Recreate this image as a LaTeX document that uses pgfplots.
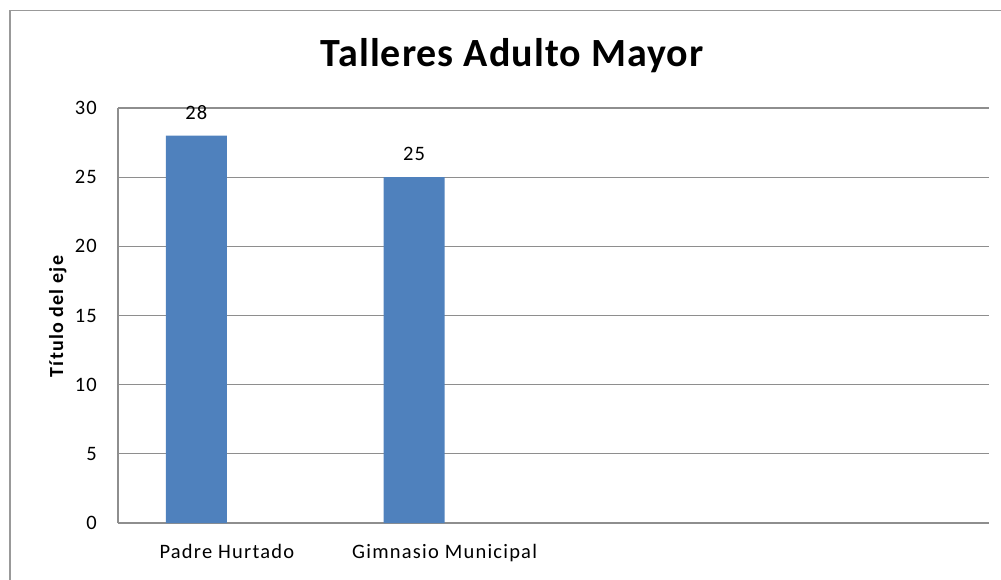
\documentclass[border=0pt]{standalone}
\usepackage{fontspec}
\setmainfont{Carlito}
\newfontfamily\lblfont{Carlito}[LetterSpace=6]
\newfontfamily\ttlfont{Carlito}[LetterSpace=2.5]
\usepackage{pgfplots}
\pgfplotsset{compat=1.18}
\definecolor{barblue}{HTML}{4F81BD}
\definecolor{gridgray}{HTML}{8E8E8E}
\definecolor{framegray}{HTML}{999999}
\begin{document}
\begin{tikzpicture}
\useasboundingbox (0bp,0bp) rectangle (1001bp,580bp);
\draw[framegray, line width=1.4bp] (10bp,0bp) -- (10bp,569.5bp) -- (1001bp,569.5bp);
\node[anchor=base, font=\ttlfont\bfseries\fontsize{40bp}{46bp}\selectfont] at (512bp,513.3bp) {Talleres Adulto Mayor};
\node[anchor=base, rotate=90, font=\lblfont\bfseries\fontsize{20bp}{24bp}\selectfont] at (63bp,263.5bp) {Título del eje};
\begin{axis}[
  at={(118bp,57bp)}, anchor=south west,
  scale only axis, width=871bp, height=415bp,
  ymin=0, ymax=30, xmin=-0.5, xmax=3.5,
  ytick={0,5,...,30},
  xtick={0,1},
  xticklabels={Padre Hurtado, Gimnasio Municipal},
  major tick length=0pt,
  axis x line*=bottom, axis y line*=left,
  axis line style={draw=gridgray, line width=1.3bp, -},
  ymajorgrids,
  grid style={draw=gridgray, line width=1.3bp},
  /pgf/number format/assume math mode=true,
  yticklabel style={font=\lblfont\fontsize{20.5bp}{24bp}\selectfont, anchor=east, inner sep=0pt, xshift=-21bp},
  xticklabel style={font=\lblfont\fontsize{20.5bp}{24bp}\selectfont, anchor=base, inner sep=0pt, yshift=-35.5bp},
  ybar, bar width=61bp, bar shift=-30.5bp,
  nodes near coords,
  every node near coord/.append style={font=\lblfont\fontsize{20.5bp}{24bp}\selectfont, anchor=base, inner sep=0pt, yshift=16.5bp, text=black},
  clip=false,
]
\addplot[fill=barblue, draw=none] coordinates {(0,28) (1,25)};
\end{axis}
\end{tikzpicture}
\end{document}
